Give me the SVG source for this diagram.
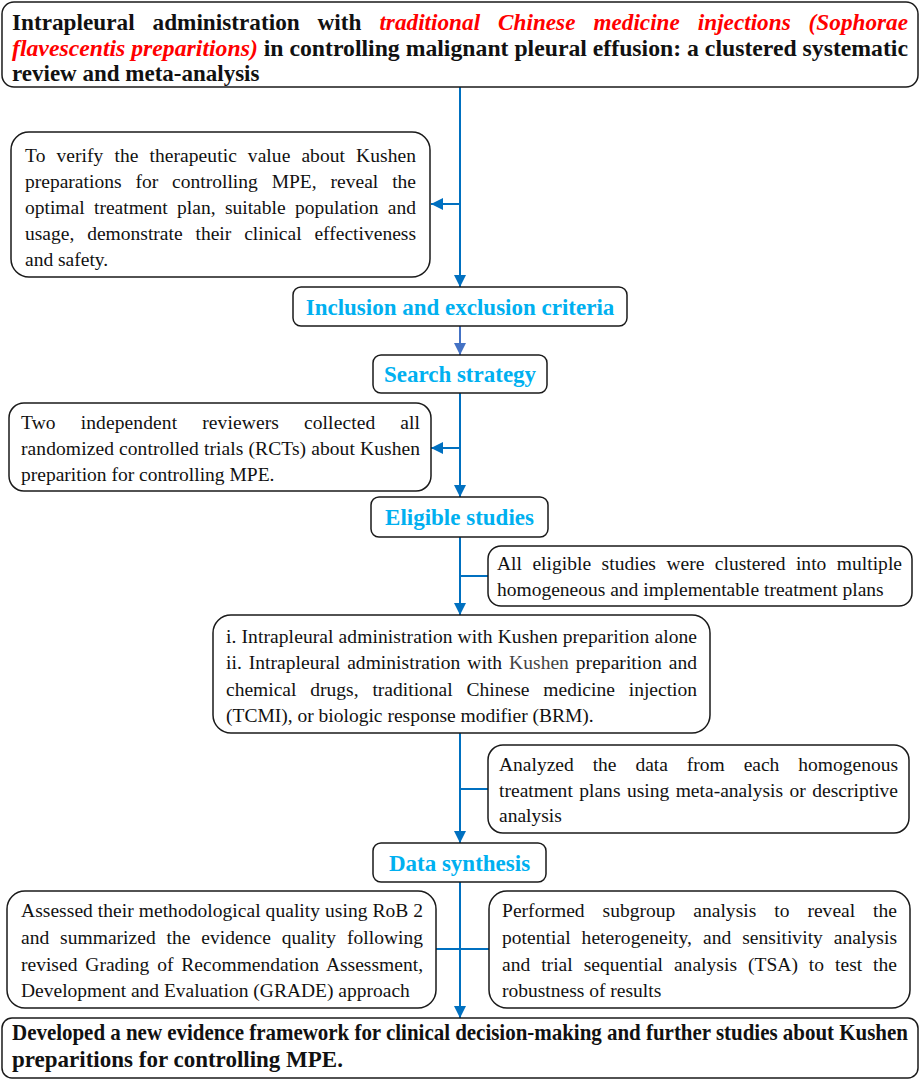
<svg xmlns="http://www.w3.org/2000/svg" width="920" height="1081" viewBox="0 0 920 1081">
<style>
.box{fill:#fff;stroke:#1a1a1a;stroke-width:1.5}
.t{font-family:"Liberation Serif","Times New Roman",serif;font-size:19.5px;fill:#111}
.b{font-family:"Liberation Serif","Times New Roman",serif;font-size:23px;font-weight:bold;fill:#111}
.red{fill:#FF0000;font-style:italic}
.h{font-family:"Liberation Serif","Times New Roman",serif;font-size:23px;font-weight:bold;fill:#00B0F0;text-anchor:middle}
.c{stroke:#0070C0;stroke-width:2;fill:none}
.c2{stroke:#4472C4;stroke-width:2;fill:none}
</style>
<defs>
<marker id="ar" markerUnits="userSpaceOnUse" markerWidth="12" markerHeight="12" refX="12" refY="6" orient="auto"><path d="M0,0 L12,6 L0,12 z" fill="#0070C0"/></marker>
<marker id="ar2" markerUnits="userSpaceOnUse" markerWidth="12" markerHeight="12" refX="12" refY="6" orient="auto"><path d="M0,0 L12,6 L0,12 z" fill="#4472C4"/></marker>
</defs>
<g id="connectors">
<path class="c" d="M460,87 V287" marker-end="url(#ar)"/>
<path class="c" d="M460,204 H431" marker-end="url(#ar)"/>
<path class="c2" d="M460,326 V355" marker-end="url(#ar2)"/>
<path class="c" d="M460,393 V497" marker-end="url(#ar)"/>
<path class="c" d="M460,448 H431" marker-end="url(#ar)"/>
<path class="c" d="M460,537 V615" marker-end="url(#ar)"/>
<path class="c" d="M460,576 H488"/>
<path class="c" d="M460,733 V843" marker-end="url(#ar)"/>
<path class="c" d="M460,789 H488"/>
<path class="c" d="M460,882 V1018" marker-end="url(#ar)"/>
<path class="c" d="M436,949 H489"/>
</g>
<g id="title">
<rect class="box" x="2" y="2" width="916" height="85" rx="12"/>
<text class="b" x="12" y="29.5" word-spacing="12" textLength="896" lengthAdjust="spacingAndGlyphs">Intrapleural administration with <tspan class="red">traditional Chinese medicine injections (Sophorae</tspan></text>
<text class="b" x="12" y="55.5" textLength="896" lengthAdjust="spacingAndGlyphs"><tspan class="red">flavescentis preparitions)</tspan> in controlling malignant pleural effusion: a clustered systematic</text>
<text class="b" x="12" y="81">review and meta-analysis</text>
</g>
<g id="objective">
<rect class="box" x="11" y="132" width="419" height="145" rx="18"/>
<text class="t" x="25" y="162" word-spacing="6" textLength="391" lengthAdjust="spacing">To verify the therapeutic value about Kushen</text>
<text class="t" x="25" y="188" word-spacing="9" textLength="391" lengthAdjust="spacing">preparations for controlling MPE, reveal the</text>
<text class="t" x="25" y="214" word-spacing="4.5" textLength="391" lengthAdjust="spacing">optimal treatment plan, suitable population and</text>
<text class="t" x="25" y="240" word-spacing="8" textLength="391" lengthAdjust="spacing">usage, demonstrate their clinical effectiveness</text>
<text class="t" x="25" y="266">and safety.</text>
</g>
<g id="inclusion">
<rect class="box" x="293" y="287" width="334" height="39" rx="8"/>
<text class="h" x="460" y="314.5">Inclusion and exclusion criteria</text>
</g>
<g id="search">
<rect class="box" x="373" y="355" width="174" height="38" rx="8"/>
<text class="h" x="460" y="382">Search strategy</text>
</g>
<g id="reviewers">
<rect class="box" x="9" y="403" width="422" height="88" rx="15"/>
<text class="t" x="21" y="429" word-spacing="20" textLength="399" lengthAdjust="spacing">Two independent reviewers collected all</text>
<text class="t" x="21" y="455" textLength="399" lengthAdjust="spacing">randomized controlled trials (RCTs) about Kushen</text>
<text class="t" x="21" y="481">preparition for controlling MPE.</text>
</g>
<g id="eligible">
<rect class="box" x="371" y="497" width="177" height="40" rx="8"/>
<text class="h" x="459.5" y="525">Eligible studies</text>
</g>
<g id="clustered">
<rect class="box" x="488" y="546" width="424" height="60" rx="13"/>
<text class="t" x="497" y="570" word-spacing="5.5" textLength="405" lengthAdjust="spacing">All eligible studies were clustered into multiple</text>
<text class="t" x="497" y="596">homogeneous and implementable treatment plans</text>
</g>
<g id="plans">
<rect class="box" x="213" y="615" width="497" height="118" rx="18"/>
<text class="t" x="226" y="643" textLength="471" lengthAdjust="spacing">i. Intrapleural administration with Kushen preparition alone</text>
<text class="t" x="226" y="669" word-spacing="2" textLength="471" lengthAdjust="spacing">ii. Intrapleural administration with <tspan fill="#444">Kushen</tspan> preparition and</text>
<text class="t" x="226" y="695.5" word-spacing="9" textLength="471" lengthAdjust="spacing">chemical drugs, traditional Chinese medicine injection</text>
<text class="t" x="226" y="722">(TCMI), or biologic response modifier (BRM).</text>
</g>
<g id="analyzed">
<rect class="box" x="488" y="745" width="421" height="88" rx="15"/>
<text class="t" x="499" y="771" word-spacing="14" textLength="399" lengthAdjust="spacing">Analyzed the data from each homogenous</text>
<text class="t" x="499" y="797" word-spacing="1.5" textLength="399" lengthAdjust="spacing">treatment plans using meta-analysis or descriptive</text>
<text class="t" x="499" y="822">analysis</text>
</g>
<g id="synthesis">
<rect class="box" x="373" y="843" width="173" height="39" rx="8"/>
<text class="h" x="459.5" y="870.5">Data synthesis</text>
</g>
<g id="assessed">
<rect class="box" x="7" y="891" width="429" height="117" rx="18"/>
<text class="t" x="21" y="917" textLength="402" lengthAdjust="spacing">Assessed their methodological quality using RoB 2</text>
<text class="t" x="21" y="944" word-spacing="6" textLength="402" lengthAdjust="spacing">and summarized the evidence quality following</text>
<text class="t" x="21" y="970.5" word-spacing="3" textLength="402" lengthAdjust="spacing">revised Grading of Recommendation Assessment,</text>
<text class="t" x="21" y="997">Development and Evaluation (GRADE) approach</text>
</g>
<g id="performed">
<rect class="box" x="489" y="891" width="421" height="117" rx="18"/>
<text class="t" x="502" y="917" word-spacing="13" textLength="395" lengthAdjust="spacing">Performed subgroup analysis to reveal the</text>
<text class="t" x="502" y="944" word-spacing="6" textLength="395" lengthAdjust="spacing">potential heterogeneity, and sensitivity analysis</text>
<text class="t" x="502" y="970.5" word-spacing="6" textLength="395" lengthAdjust="spacing">and trial sequential analysis (TSA) to test the</text>
<text class="t" x="502" y="997">robustness of results</text>
</g>
<g id="framework">
<rect class="box" x="2" y="1018" width="916" height="60" rx="10"/>
<text class="b" x="12" y="0" transform="translate(0,1040) scale(1,1.1)" style="font-size:21px" textLength="896" lengthAdjust="spacing">Developed a new evidence framework for clinical decision-making and further studies about Kushen</text>
<text class="b" x="12" y="1067">preparitions for controlling MPE.</text>
</g>
</svg>
